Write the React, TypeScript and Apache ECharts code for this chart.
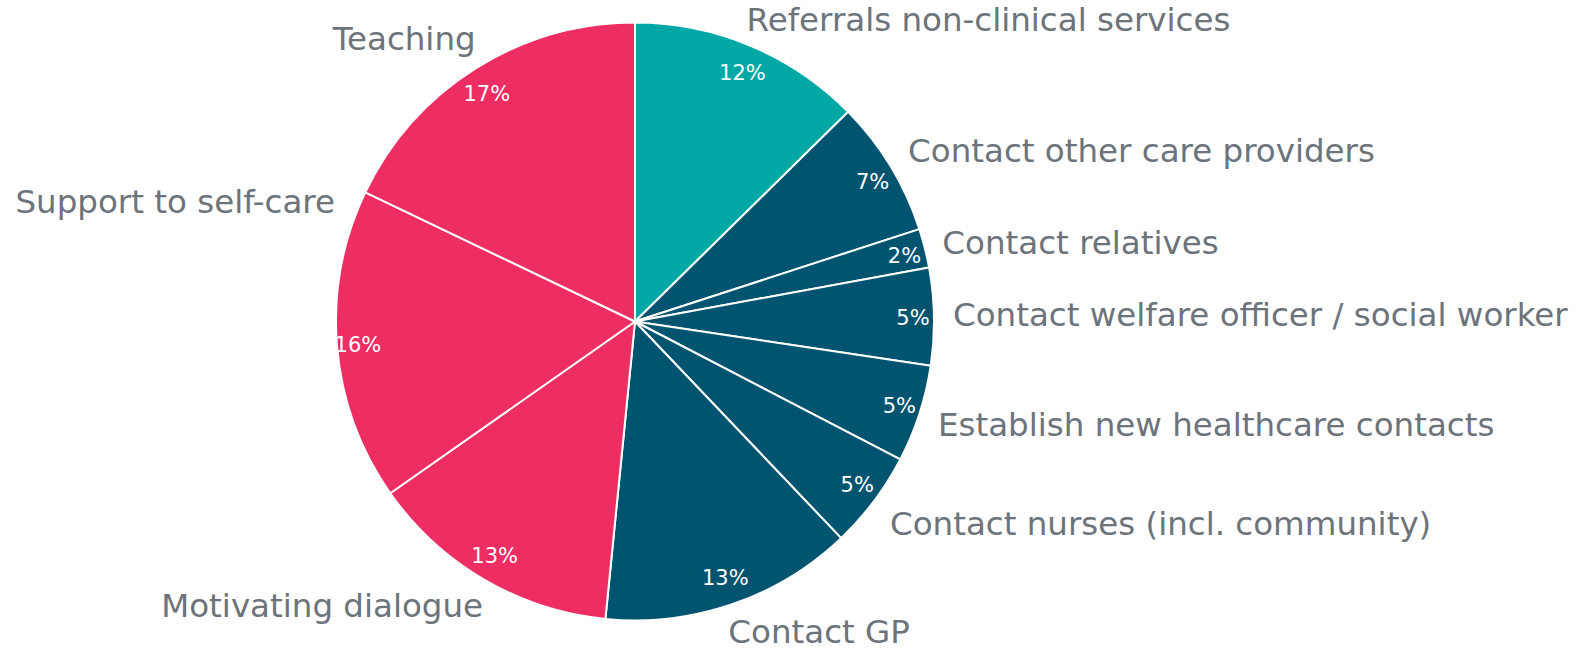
import React, { useEffect, useRef } from 'react';
import * as echarts from 'echarts';

// ---- data ----
const categories = [
  'Referrals non-clinical services',
  'Contact other care providers',
  'Contact relatives',
  'Contact welfare officer / social worker',
  'Establish new healthcare contacts',
  'Contact nurses (incl. community)',
  'Contact GP',
  'Motivating dialogue',
  'Support to self-care',
  'Teaching',
];
const shares = [12, 7, 2, 5, 5, 5, 13, 13, 16, 17];
const groups = ['referral', 'contact', 'contact', 'contact', 'contact', 'contact', 'contact', 'self', 'self', 'self'];

// ---- styles ----
const groupColors: Record<string, string> = {
  referral: '#00A8A5',
  contact: '#005470',
  self: '#EE2E63',
};
const CX = 635;
const CY = 321.5;
const R = 299;
// percent labels sit on an ellipse just inside the rim
const PCT_RX = 278;
const PCT_RY = 270;
const PCT_DY = 1;
// name-label placement relative to the slice's outer edge point at its mid angle
const labelOffsets: [number, number, string][] = [
  [-4, -26, 'left'],
  [17.5, -15, 'left'],
  [17.5, -5, 'left'],
  [19, -2, 'left'],
  [18.6, 11, 'left'],
  [16, 23, 'left'],
  [87, 28, 'center'],
  [-1, 26, 'right'],
  [-2, -144, 'right'],
  [0, -30, 'right'],
];

const total = shares.reduce((a, b) => a + b, 0);
const midAngles = shares.map((v, i) => {
  const before = shares.slice(0, i).reduce((a, b) => a + b, 0);
  return ((before + v / 2) / total) * Math.PI * 2;
});

export default function App() {
  const ref = useRef<HTMLDivElement>(null);
  useEffect(() => {
    if (!ref.current) return;
    const chart = echarts.init(ref.current, undefined, { renderer: 'svg' });
    const data = categories.map((name, i) => ({
      name,
      value: shares[i],
      itemStyle: { color: groupColors[groups[i]] },
    }));
    chart.setOption({
      animation: false,
      backgroundColor: '#ffffff',
      series: [
        {
          type: 'pie',
          center: [CX, CY],
          radius: [0, R],
          startAngle: 90,
          clockwise: true,
          avoidLabelOverlap: false,
          silent: true,
          itemStyle: { borderColor: '#ffffff', borderWidth: 2 },
          label: {
            show: true,
            position: 'outside',
            formatter: '{b}',
            color: '#6c737a',
            fontSize: 32.5,
            fontFamily: 'DejaVu Sans',
            overflow: 'none',
          },
          labelLine: { show: false },
          labelLayout: (params: any) => {
            const i = params.dataIndex;
            const a = midAngles[i];
            const ex = CX + R * Math.sin(a);
            const ey = CY - R * Math.cos(a);
            const [dx, dy, align] = labelOffsets[i];
            return { x: ex + dx, y: ey + dy, align, verticalAlign: 'middle', hideOverlap: false };
          },
          data,
        },
        {
          type: 'pie',
          center: [CX, CY],
          radius: [251, R],
          startAngle: 90,
          clockwise: true,
          silent: true,
          avoidLabelOverlap: false,
          itemStyle: { color: 'rgba(0,0,0,0)', borderWidth: 0 },
          label: {
            show: true,
            position: 'inside',
            formatter: '{c}%',
            color: '#ffffff',
            fontSize: 21,
            fontFamily: 'DejaVu Sans',
          },
          labelLine: { show: false },
          labelLayout: (params: any) => {
            const a = midAngles[params.dataIndex];
            return {
              x: CX + PCT_RX * Math.sin(a),
              y: CY - PCT_RY * Math.cos(a) + PCT_DY,
              align: 'center',
              verticalAlign: 'middle',
              hideOverlap: false,
            };
          },
          data: categories.map((name, i) => ({ name, value: shares[i] })),
        },
      ],
    });
    return () => chart.dispose();
  }, []);
  return (
    <div
      ref={ref}
      style={{ position: 'fixed', left: 0, top: 0, width: 1585, height: 650, background: '#fff' }}
    />
  );
}
